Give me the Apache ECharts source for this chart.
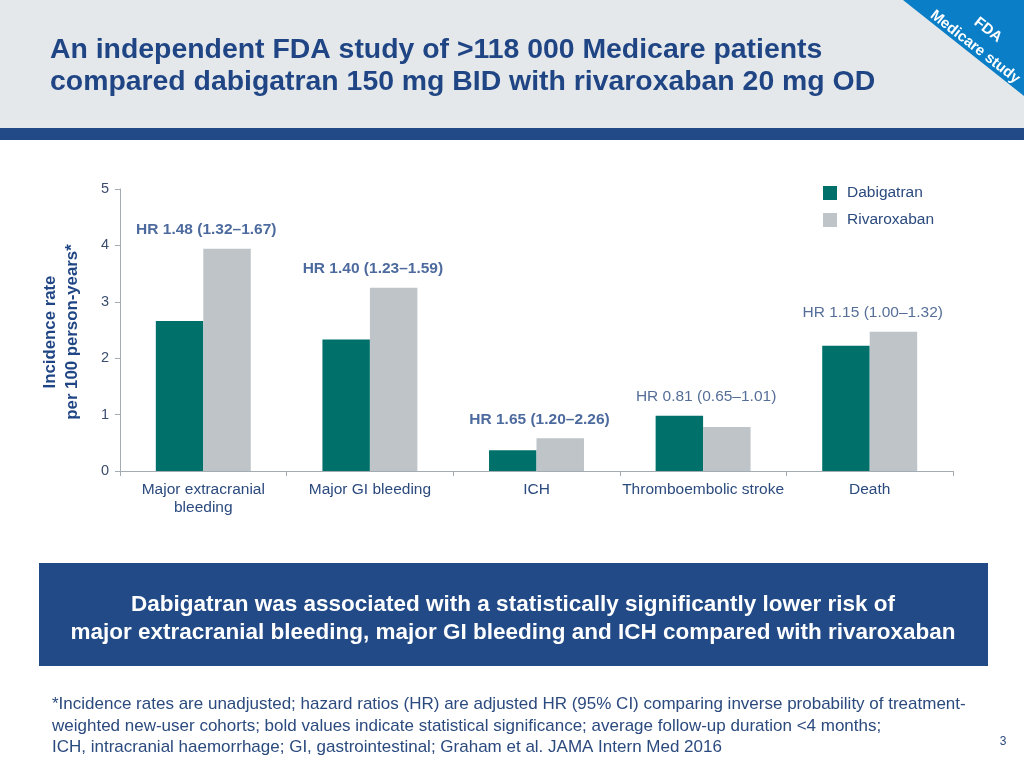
<!DOCTYPE html>
<html>
<head>
<meta charset="utf-8">
<script src="https://cdn.jsdelivr.net/npm/echarts@6/dist/echarts.min.js"></script>
<style>
html,body{margin:0;padding:0;background:#fff;}
#chart{width:1024px;height:768px;}
</style>
</head>
<body>
<div id="chart"></div>
<script>
var categories = ['Major extracranial\nbleeding', 'Major GI bleeding', 'ICH', 'Thromboembolic stroke', 'Death'];
var seriesNames = ['Dabigatran', 'Rivaroxaban'];
var dabigatran = [2.66, 2.33, 0.37, 0.98, 2.22];
var rivaroxaban = [3.94, 3.25, 0.58, 0.78, 2.47];
var hrLabels = ['HR 1.48 (1.32–1.67)', 'HR 1.40 (1.23–1.59)', 'HR 1.65 (1.20–2.26)', 'HR 0.81 (0.65–1.01)', 'HR 1.15 (1.00–1.32)'];
var hrSignificant = [true, true, true, false, false];
var yMin = 0, yMax = 5, yInterval = 1;

var FONT = '"Liberation Sans", Arial, sans-serif';
var NAVY = '#1f4584';
var TEXT = '#2b4a7e';

var hrData = categories.map(function (c, i) {
  return {
    value: [i, Math.max(dabigatran[i], rivaroxaban[i])],
    label: { fontWeight: hrSignificant[i] ? 'bold' : 'normal', color: hrSignificant[i] ? NAVY : TEXT }
  };
});

var chart = echarts.init(document.getElementById('chart'), null, { renderer: 'canvas' });
chart.setOption({
  backgroundColor: '#ffffff',
  animation: false,
  textStyle: { fontFamily: FONT },
  grid: { left: 120, right: 71, top: 189, bottom: 297, containLabel: false },
  legend: {
    data: seriesNames,
    orient: 'vertical',
    left: 823, top: 185, padding: 0,
    itemWidth: 14, itemHeight: 14, itemGap: 11,
    icon: 'rect',
    textStyle: { fontSize: 15.5, color: TEXT, fontFamily: FONT, padding: [0, 0, 0, 5] },
    selectedMode: false
  },
  xAxis: {
    type: 'category',
    data: categories,
    axisLine: { lineStyle: { color: '#a3abb3', width: 1 } },
    axisTick: { show: true, length: 5, lineStyle: { color: '#a3abb3' } },
    axisLabel: { color: TEXT, fontSize: 15.5, fontFamily: FONT, margin: 10, lineHeight: 18, interval: 0 }
  },
  yAxis: {
    type: 'value',
    min: yMin, max: yMax, interval: yInterval,
    axisLine: { show: true, lineStyle: { color: '#a3abb3', width: 1 } },
    axisTick: { show: true, length: 5, lineStyle: { color: '#a3abb3' } },
    axisLabel: { color: '#3b4d6e', fontSize: 14.5, fontFamily: FONT, margin: 11 },
    splitLine: { show: false }
  },
  series: [
    {
      name: seriesNames[0], type: 'bar', data: dabigatran,
      itemStyle: { color: '#00716a' },
      barGap: '0%', barCategoryGap: '43%'
    },
    {
      name: seriesNames[1], type: 'bar', data: rivaroxaban,
      itemStyle: { color: '#bec4c8' },
      barGap: '0%', barCategoryGap: '43%'
    },
    {
      name: 'HR', type: 'scatter', data: hrData, symbolSize: 0, silent: true,
      label: {
        show: true, position: 'top', distance: 11, offset: [3, 0],
        formatter: function (p) { return hrLabels[p.dataIndex]; },
        fontSize: 15.5, fontFamily: FONT
      }
    }
  ],
  graphic: [
    { type: 'rect', shape: { x: 0, y: 0, width: 1024, height: 128 }, style: { fill: '#e5e8ea' }, z: -10 },
    { type: 'rect', shape: { x: 0, y: 128, width: 1024, height: 12 }, style: { fill: '#214a87' }, z: -10 },
    { type: 'polygon', shape: { points: [[903, 0], [1024, 0], [1024, 96]] }, style: { fill: '#0a7ec6' }, z: 1 },
    { type: 'text', x: 988, y: 30, rotation: -38 * Math.PI / 180, z: 2,
      style: { text: 'FDA', fill: '#ffffff', font: 'bold 15px ' + FONT, textAlign: 'center', textVerticalAlign: 'middle' } },
    { type: 'text', x: 975, y: 47, rotation: -38 * Math.PI / 180, z: 2,
      style: { text: 'Medicare study', fill: '#ffffff', font: 'bold 15px ' + FONT, textAlign: 'center', textVerticalAlign: 'middle' } },
    { type: 'text', x: 50, y: 50, z: 2,
      style: { text: 'An independent FDA study of >118 000 Medicare patients', fill: NAVY, font: 'bold 28.4px ' + FONT, textVerticalAlign: 'middle' } },
    { type: 'text', x: 50, y: 82, z: 2,
      style: { text: 'compared dabigatran 150 mg BID with rivaroxaban 20 mg OD', fill: NAVY, font: 'bold 28.4px ' + FONT, textVerticalAlign: 'middle' } },
    { type: 'text', x: 61, y: 332, rotation: Math.PI / 2, z: 2,
      style: { text: 'Incidence rate\nper 100 person-years*', fill: NAVY, font: 'bold 16.8px ' + FONT, textAlign: 'center', textVerticalAlign: 'middle', lineHeight: 22 } },
    { type: 'rect', shape: { x: 39, y: 563, width: 949, height: 103 }, style: { fill: '#214a87' }, z: 1 },
    { type: 'text', x: 513, y: 619, z: 2,
      style: { text: 'Dabigatran was associated with a statistically significantly lower risk of\nmajor extracranial bleeding, major GI bleeding and ICH compared with rivaroxaban', fill: '#ffffff', font: 'bold 22.5px ' + FONT, textAlign: 'center', textVerticalAlign: 'middle', lineHeight: 28 } },
    { type: 'text', x: 52, y: 726, z: 2,
      style: { text: '*Incidence rates are unadjusted; hazard ratios (HR) are adjusted HR (95% CI) comparing inverse probability of treatment-\nweighted new-user cohorts; bold values indicate statistical significance; average follow-up duration <4 months;\nICH, intracranial haemorrhage; GI, gastrointestinal; Graham et al. JAMA Intern Med 2016', fill: TEXT, font: '17px ' + FONT, textVerticalAlign: 'middle', lineHeight: 21.5 } },
    { type: 'text', x: 1003, y: 742, z: 2,
      style: { text: '3', fill: TEXT, font: '12px ' + FONT, textAlign: 'center', textVerticalAlign: 'middle' } }
  ]
});
</script>
</body>
</html>
